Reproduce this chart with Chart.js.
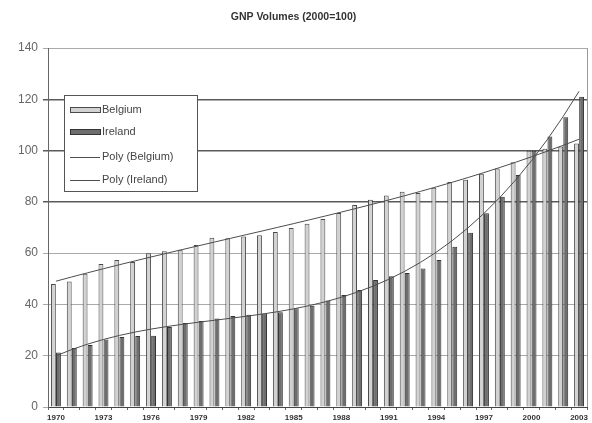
<!DOCTYPE html>
<html>
<head>
<meta charset="utf-8">
<script src="https://cdn.jsdelivr.net/npm/chart.js@4/dist/chart.umd.min.js"></script>
<style>
  html, body { margin: 0; padding: 0; background: #ffffff; }
  #wrap { width: 592px; height: 423px; }
</style>
</head>
<body>
<div id="wrap"><canvas id="c" width="592" height="423"></canvas></div>
<script>
// GNP volume indices, 2000 = 100
const years = ['1970','1971','1972','1973','1974','1975','1976','1977','1978','1979',
               '1980','1981','1982','1983','1984','1985','1986','1987','1988','1989',
               '1990','1991','1992','1993','1994','1995','1996','1997','1998','1999',
               '2000','2001','2002','2003'];
const belgium = [48, 49, 52, 55.8, 57.3, 56.6, 60, 60.8, 61.3, 63.2,
                 66, 65.8, 66.5, 67, 68.3, 69.8, 71.5, 73.3, 75.7, 78.8,
                 80.8, 82.5, 84, 83.5, 85.5, 87.8, 88.6, 91, 93, 95.5,
                 100, 100.7, 101.6, 102.8];
const ireland = [21.3, 23, 24.2, 26.3, 27.3, 27.7, 27.8, 31.2, 32.8, 33.5,
                 34.5, 35.5, 36, 36.5, 37, 38.5, 39.5, 41.5, 43.7, 45.6,
                 49.5, 51, 52.3, 54, 57.3, 62.5, 68, 75.6, 82, 90.5,
                 100, 105.5, 113, 121];
const labelStep = 3;       // a year label every third category
const trendOrder = 3;      // polynomial trendline order

// least-squares polynomial fit on x = 1..n, returns fitted values
function polyTrend(values, order) {
  const n = values.length, m = order + 1;
  const A = Array.from({length: m}, () => new Array(m + 1).fill(0));
  for (let i = 0; i < n; i++) {
    const x = i + 1, pw = [];
    for (let k = 0; k < 2 * m; k++) pw.push(Math.pow(x, k));
    for (let r = 0; r < m; r++) {
      for (let c = 0; c < m; c++) A[r][c] += pw[r + c];
      A[r][m] += pw[r] * values[i];
    }
  }
  for (let p = 0; p < m; p++) {
    let best = p;
    for (let r = p + 1; r < m; r++) if (Math.abs(A[r][p]) > Math.abs(A[best][p])) best = r;
    [A[p], A[best]] = [A[best], A[p]];
    for (let r = 0; r < m; r++) {
      if (r === p) continue;
      const f = A[r][p] / A[p][p];
      for (let c = p; c <= m; c++) A[r][c] -= f * A[p][c];
    }
  }
  const coef = A.map((row, i) => row[m] / row[i]);
  return values.map((_, i) => coef.reduce((s, a, k) => s + a * Math.pow(i + 1, k), 0));
}

const FONT = "'Liberation Sans', Arial, Helvetica, sans-serif";

// boxed legend in the upper left of the plot
const boxLegend = {
  id: 'boxLegend',
  afterDraw(chart) {
    const ctx = chart.ctx;
    const x0 = 64, y0 = 95, w = 133, h = 96;
    ctx.save();
    ctx.fillStyle = '#ffffff';
    ctx.fillRect(x0, y0, w, h);
    ctx.strokeStyle = '#555555';
    ctx.lineWidth = 1;
    ctx.strokeRect(x0 + 0.5, y0 + 0.5, w, h);
    const rows = [110, 132, 157, 180];
    ctx.font = '11px ' + FONT;
    ctx.textBaseline = 'middle';
    chart.data.datasets.forEach((ds, i) => {
      const y = rows[i];
      if (ds.type === 'line') {
        ctx.strokeStyle = ds.borderColor;
        ctx.lineWidth = 1;
        ctx.beginPath();
        ctx.moveTo(70, y + 0.5);
        ctx.lineTo(100, y + 0.5);
        ctx.stroke();
      } else {
        ctx.fillStyle = ds.backgroundColor;
        ctx.fillRect(70, y - 2, 30, 5);
        ctx.strokeStyle = ds.borderColor;
        ctx.strokeRect(70.5, y - 2.5, 30, 5);
      }
      ctx.fillStyle = '#444444';
      ctx.fillText(ds.label, 102, y);
    });
    ctx.restore();
  }
};

// right-hand edge of the plot frame
const plotFrame = {
  id: 'plotFrame',
  beforeDatasetsDraw(chart) {
    const a = chart.chartArea, ctx = chart.ctx;
    ctx.save();
    ctx.strokeStyle = '#999999';
    ctx.lineWidth = 1;
    ctx.beginPath();
    ctx.moveTo(Math.round(a.right) + 0.5, a.top);
    ctx.lineTo(Math.round(a.right) + 0.5, a.bottom);
    ctx.stroke();
    ctx.restore();
  }
};

new Chart(document.getElementById('c'), {
  data: {
    labels: years,
    datasets: [
      { type: 'bar', label: 'Belgium', data: belgium, order: 2,
        backgroundColor: '#d2d2d2', borderColor: '#4a4a4a', borderWidth: 1,
        categoryPercentage: 0.64, barPercentage: 0.96 },
      { type: 'bar', label: 'Ireland', data: ireland, order: 2,
        backgroundColor: '#6e6e6e', borderColor: '#333333', borderWidth: 1,
        categoryPercentage: 0.64, barPercentage: 0.96 },
      { type: 'line', label: 'Poly (Belgium)', data: polyTrend(belgium, trendOrder), order: 0,
        borderColor: '#4d4d4d', borderWidth: 1, pointRadius: 0, tension: 0, fill: false },
      { type: 'line', label: 'Poly (Ireland)', data: polyTrend(ireland, trendOrder), order: 0,
        borderColor: '#4d4d4d', borderWidth: 1, pointRadius: 0, tension: 0, fill: false }
    ]
  },
  options: {
    responsive: false,
    animation: false,
    devicePixelRatio: 1,
    layout: { padding: { left: 0, right: 5, top: 0, bottom: 0 } },
    plugins: {
      legend: { display: false },
      tooltip: { enabled: false },
      title: {
        display: true, text: 'GNP Volumes (2000=100)', color: '#333333',
        font: { family: FONT, size: 10.5, weight: 'bold' },
        padding: { top: 11, bottom: 24.5 }
      }
    },
    scales: {
      x: {
        grid: { display: true, drawOnChartArea: false, drawTicks: true, tickLength: 3, color: '#666666' },
        border: { color: '#444444' },
        ticks: {
          autoSkip: false, maxRotation: 0, minRotation: 0, padding: 3,
          color: '#333333', font: { family: FONT, size: 8, weight: 'bold' },
          callback: (v, i) => (i % labelStep === 0 ? years[i] : '')
        },
        afterFit: s => { s.height = 16; }
      },
      y: {
        min: 0, max: 140,
        ticks: { stepSize: 20, color: '#666666', padding: 5, font: { family: FONT, size: 12 } },
        grid: {
          tickLength: 5,
          color: c => (c.tick && c.tick.value >= 80 && c.tick.value < 140) ? '#5a5a5a' : '#aaaaaa',
          lineWidth: c => (c.tick && c.tick.value >= 80 && c.tick.value < 140) ? 1.5 : 1
        },
        border: { color: '#666666' },
        afterFit: s => { s.width = 48; }
      }
    }
  },
  plugins: [plotFrame, boxLegend]
});
</script>
</body>
</html>
